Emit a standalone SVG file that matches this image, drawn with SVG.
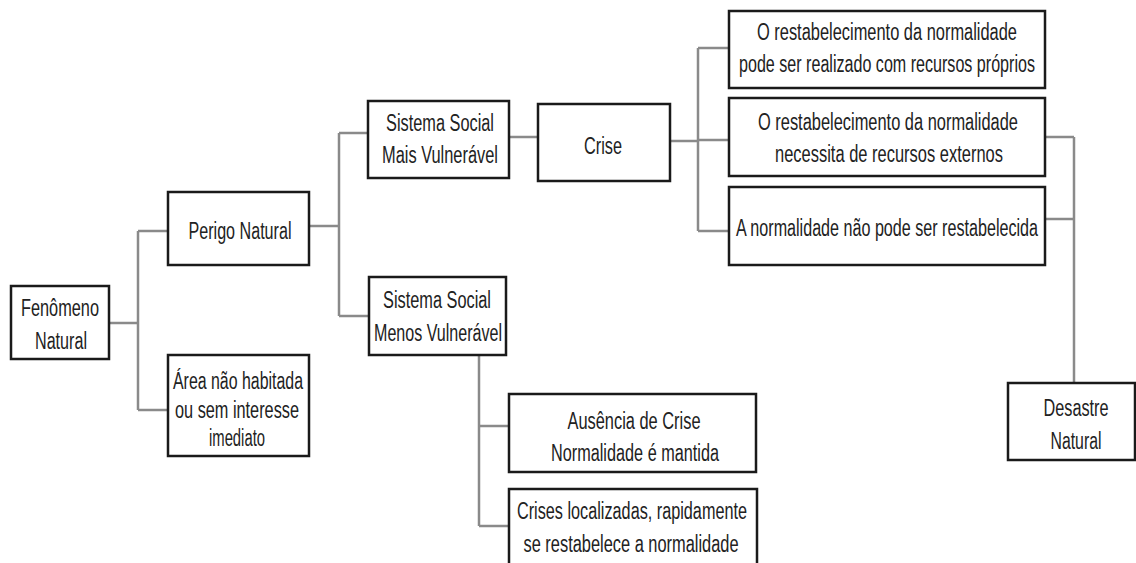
<svg xmlns="http://www.w3.org/2000/svg" width="1136" height="563" viewBox="0 0 1136 563">
<style>
.box{fill:#fff;stroke:#1a1a1a;stroke-width:2.5}
.t{font-family:"Liberation Sans Narrow","Liberation Sans",Arial,sans-serif;font-size:23px;fill:#222;text-anchor:middle}
.c{fill:none;stroke:#8a8a8a;stroke-width:2.5}
</style>
<rect width="1136" height="563" fill="#fff"/>
<g id="connectors" class="c">
<path d="M109 323H138M138 231V410M138 231H168M138 410H168"/>
<path d="M309 226H339M339 133V316M339 133H368M339 316H369"/>
<path d="M509 137H538"/>
<path d="M670 141H698M698 48V231M698 48H729M698 140H729M698 231H729"/>
<path d="M1045 137H1074M1045 219H1074M1074 137V383"/>
<path d="M479 355V526M479 426H509M479 526H509"/>
</g>
<g id="fenomeno"><rect class="box" x="11" y="286" width="98" height="73"/>
<text class="t" x="60" y="316" textLength="78" lengthAdjust="spacingAndGlyphs">Fenômeno</text>
<text class="t" x="61" y="349" textLength="52" lengthAdjust="spacingAndGlyphs">Natural</text></g>
<g id="perigo"><rect class="box" x="168" y="192" width="141" height="73"/>
<text class="t" x="240" y="239" textLength="103" lengthAdjust="spacingAndGlyphs">Perigo Natural</text></g>
<g id="area"><rect class="box" x="168" y="355" width="141" height="101"/>
<text class="t" x="238" y="389" textLength="130" lengthAdjust="spacingAndGlyphs">Área não habitada</text>
<text class="t" x="237" y="418" textLength="124" lengthAdjust="spacingAndGlyphs">ou sem interesse</text>
<text class="t" x="237" y="446" textLength="56" lengthAdjust="spacingAndGlyphs">imediato</text></g>
<g id="ssmais"><rect class="box" x="368" y="101" width="141" height="77"/>
<text class="t" x="440" y="131" textLength="108" lengthAdjust="spacingAndGlyphs">Sistema Social</text>
<text class="t" x="440" y="163" textLength="116" lengthAdjust="spacingAndGlyphs">Mais Vulnerável</text></g>
<g id="crise"><rect class="box" x="538" y="104" width="132" height="77"/>
<text class="t" x="603" y="154" textLength="38" lengthAdjust="spacingAndGlyphs">Crise</text></g>
<g id="ssmenos"><rect class="box" x="369" y="277" width="137" height="78"/>
<text class="t" x="437" y="308" textLength="108" lengthAdjust="spacingAndGlyphs">Sistema Social</text>
<text class="t" x="438" y="341" textLength="128" lengthAdjust="spacingAndGlyphs">Menos Vulnerável</text></g>
<g id="ausencia"><rect class="box" x="509" y="394" width="247" height="78"/>
<text class="t" x="634" y="429" textLength="133" lengthAdjust="spacingAndGlyphs">Ausência de Crise</text>
<text class="t" x="635" y="461" textLength="168" lengthAdjust="spacingAndGlyphs">Normalidade é mantida</text></g>
<g id="crises"><rect class="box" x="509" y="489" width="248" height="78"/>
<text class="t" x="632" y="519" textLength="230" lengthAdjust="spacingAndGlyphs">Crises localizadas, rapidamente</text>
<text class="t" x="631" y="552" textLength="215" lengthAdjust="spacingAndGlyphs">se restabelece a normalidade</text></g>
<g id="r1"><rect class="box" x="729" y="11" width="316" height="77"/>
<text class="t" x="887" y="40" textLength="260" lengthAdjust="spacingAndGlyphs">O restabelecimento da normalidade</text>
<text class="t" x="887" y="72" textLength="296" lengthAdjust="spacingAndGlyphs">pode ser realizado com recursos próprios</text></g>
<g id="r2"><rect class="box" x="729" y="98" width="316" height="78"/>
<text class="t" x="888" y="130" textLength="260" lengthAdjust="spacingAndGlyphs">O restabelecimento da normalidade</text>
<text class="t" x="889" y="162" textLength="228" lengthAdjust="spacingAndGlyphs">necessita de recursos externos</text></g>
<g id="r3"><rect class="box" x="729" y="187" width="316" height="78"/>
<text class="t" x="887" y="236" textLength="302" lengthAdjust="spacingAndGlyphs">A normalidade não pode ser restabelecida</text></g>
<g id="desastre"><rect class="box" x="1008" y="383" width="127" height="77"/>
<text class="t" x="1076" y="416" textLength="65" lengthAdjust="spacingAndGlyphs">Desastre</text>
<text class="t" x="1076" y="449" textLength="51" lengthAdjust="spacingAndGlyphs">Natural</text></g>
</svg>
